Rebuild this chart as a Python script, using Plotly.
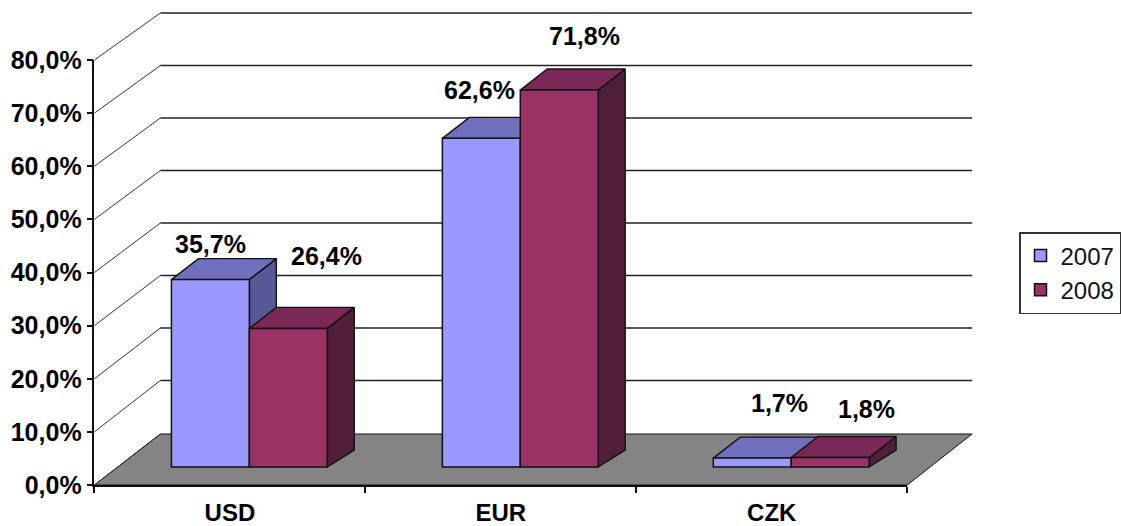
import plotly.graph_objects as go

categories = ["USD", "EUR", "CZK"]
series_names = ["2007", "2008"]
values_2007 = [35.7, 62.6, 1.7]
values_2008 = [26.4, 71.8, 1.8]
tick_values = [0, 10, 20, 30, 40, 50, 60, 70, 80]
tick_labels = ["0,0%", "10,0%", "20,0%", "30,0%", "40,0%", "50,0%", "60,0%", "70,0%", "80,0%"]

W, H = 1121, 526
# plot frame in pixels
L, R, T, B = 94.5, 908.0, 60.0, 485.0
PX_X = (R - L) / 3.0          # px per category
PX_Y = (B - T) / 80.0         # px per percent on the front axis
PX_B = 5.25                   # px per percent on the bar plane
FLOOR = 467.0                 # pixel row of the bar plane's zero
X_FULL = [-0.5 - L / PX_X, -0.5 + (W - L) / PX_X]
Y_FULL = [(FLOOR - H) / PX_B, FLOOR / PX_B]

BAR_W = 78 / PX_X
BAR_SHIFT = 19.5 / PX_X
BAR_DX = 27 / PX_X
TOP_DY = 21 / PX_B
BOT_DY = 17 / PX_B
WALL_DX = 66 / PX_X
WALL_BASE = (FLOOR - 434) / PX_B
WALL_LIFT = 1 / PX_B

FRONT = {"2007": "#9999FF", "2008": "#993366"}
TOP_C = {"2007": ("#4f4f96", "#8a8ade"), "2008": ("#5f1239", "#8f3a6c")}
SIDE_C = {"2007": ("#3c3c78", "#6c6cb0"), "2008": ("#30101e", "#682a4e")}
FONT = "Liberation Sans"
INK = "#111111"
TXT = dict(family=FONT, size=25, color="#000000", weight=700)
AXIS_TXT = dict(family=FONT, size=24, color="#000000", weight=700)

fig = go.Figure()


def pattern(fg, bg, size=2, solidity=0.5):
    return dict(shape=".", fgcolor=fg, bgcolor=bg, size=size, solidity=solidity, fillmode="replace")


def poly(xs, ys, fg, bg, lw=1.4, size=2):
    fig.add_trace(go.Scatter(
        x=xs + xs[:1], y=ys + ys[:1], mode="lines", fill="toself",
        fillpattern=pattern(fg, bg, size), line=dict(color=INK, width=lw),
        showlegend=False, hoverinfo="skip", xaxis="x", yaxis="y2",
    ))


def front_to_bar(v):
    return (v * PX_Y - (B - FLOOR)) / PX_B


# floor
x0, x1 = -0.5, 2.5
y_f = front_to_bar(0)
poly([x0, x0 + WALL_DX, x1 + 65 / PX_X, x1], [y_f, WALL_BASE, WALL_BASE, y_f],
     "#5e5e5e", "#a2a2a2", lw=1.0)

# wall lines
for v in tick_values:
    back = v + WALL_BASE + (WALL_LIFT if v > 0 else 0)
    fig.add_trace(go.Scatter(
        x=[x0, x0 + WALL_DX], y=[front_to_bar(v), back], mode="lines",
        line=dict(color="#333333", width=1), showlegend=False, hoverinfo="skip",
        xaxis="x", yaxis="y2"))
    if v > 0:
        fig.add_trace(go.Scatter(
            x=[x0 + WALL_DX, x1 + 65 / PX_X], y=[back, back], mode="lines",
            line=dict(color="#222222", width=1.4), showlegend=False, hoverinfo="skip",
            xaxis="x", yaxis="y2"))

# bar tops and sides
series = [("2007", values_2007, -BAR_W + BAR_SHIFT), ("2008", values_2008, BAR_SHIFT)]
for i in range(len(categories)):
    for name, vals, off in series:
        v = vals[i]
        l = i + off
        r = l + BAR_W
        poly([r, r + BAR_DX, r + BAR_DX, r], [0, BOT_DY, v + TOP_DY, v], *SIDE_C[name])
        poly([l, r, r + BAR_DX, l + BAR_DX], [v, v, v + TOP_DY, v + TOP_DY], *TOP_C[name])

# carries the visible value axis
fig.add_trace(go.Scatter(
    x=categories, y=[0, 0, 0], mode="lines", line=dict(width=0), showlegend=False,
    hoverinfo="skip", xaxis="x2", yaxis="y"))

# bar front faces
for name, vals, off in series:
    fig.add_trace(go.Bar(
        x=categories, y=vals, name=name, width=BAR_W, offset=off,
        marker=dict(color=FRONT[name], line=dict(color=INK, width=1.5)),
        xaxis="x2", yaxis="y2", hoverinfo="skip",
    ))

# data labels: horizontal and vertical nudges from each bar's top
label_nudges = {
    "2007": [(0, 35.6), (-2, 48), (27, 55)],
    "2008": [(38, 72), (25, 54), (36, 48.5)],
}
annotations = []
for name, vals, off in series:
    for i, v in enumerate(vals):
        dx, dy = label_nudges[name][i]
        annotations.append(dict(
            x=i + off + BAR_W / 2, y=v, xref="x", yref="y2", xshift=dx, yshift=dy,
            text=f"{v:.1f}%".replace(".", ","), showarrow=False,
            font=TXT, xanchor="center", yanchor="middle",
        ))

dom_x = [L / W, R / W]
dom_y = [(H - B) / H, (H - T) / H]
fig.update_layout(
    template="none",
    width=W, height=H, margin=dict(l=0, r=0, t=0, b=0, pad=0), autosize=False,
    paper_bgcolor="white", plot_bgcolor="rgba(0,0,0,0)",
    barmode="overlay", annotations=annotations,
    xaxis=dict(domain=[0, 1], range=X_FULL, visible=False, anchor="y2", fixedrange=True, automargin=False),
    yaxis2=dict(domain=[0, 1], range=Y_FULL, visible=False, anchor="x", fixedrange=True, automargin=False),
    xaxis2=dict(
        domain=dom_x, range=[x0, x1], anchor="y", side="bottom", automargin=False,
        type="category", categoryorder="array", categoryarray=categories,
        tickson="boundaries", ticks="outside", ticklen=6, tickwidth=1.5, tickcolor=INK,
        showline=True, linecolor=INK, linewidth=1.6, showgrid=False, zeroline=False,
        ticklabelstandoff=5, tickfont=AXIS_TXT, fixedrange=True,
    ),
    yaxis=dict(
        domain=dom_y, range=[0, 80], anchor="x2", tickvals=tick_values, ticktext=tick_labels,
        ticks="outside", ticklen=6, tickwidth=1.5, tickcolor=INK, automargin=False,
        showline=True, linecolor=INK, linewidth=1.6, showgrid=False, zeroline=False,
        tickfont=TXT, fixedrange=True,
    ),
    legend=dict(
        x=1020 / W, y=1 - 232 / H, xanchor="left", yanchor="top",
        bgcolor="white", bordercolor="#333333", borderwidth=1.5,
        font=dict(family=FONT, size=24, color="#111111"),
        itemwidth=30, tracegroupgap=0,
    ),
)

fig.write_html("out.html", config={"displayModeBar": False},
               post_script="document.body.style.margin='0';document.body.style.overflow='hidden';")
